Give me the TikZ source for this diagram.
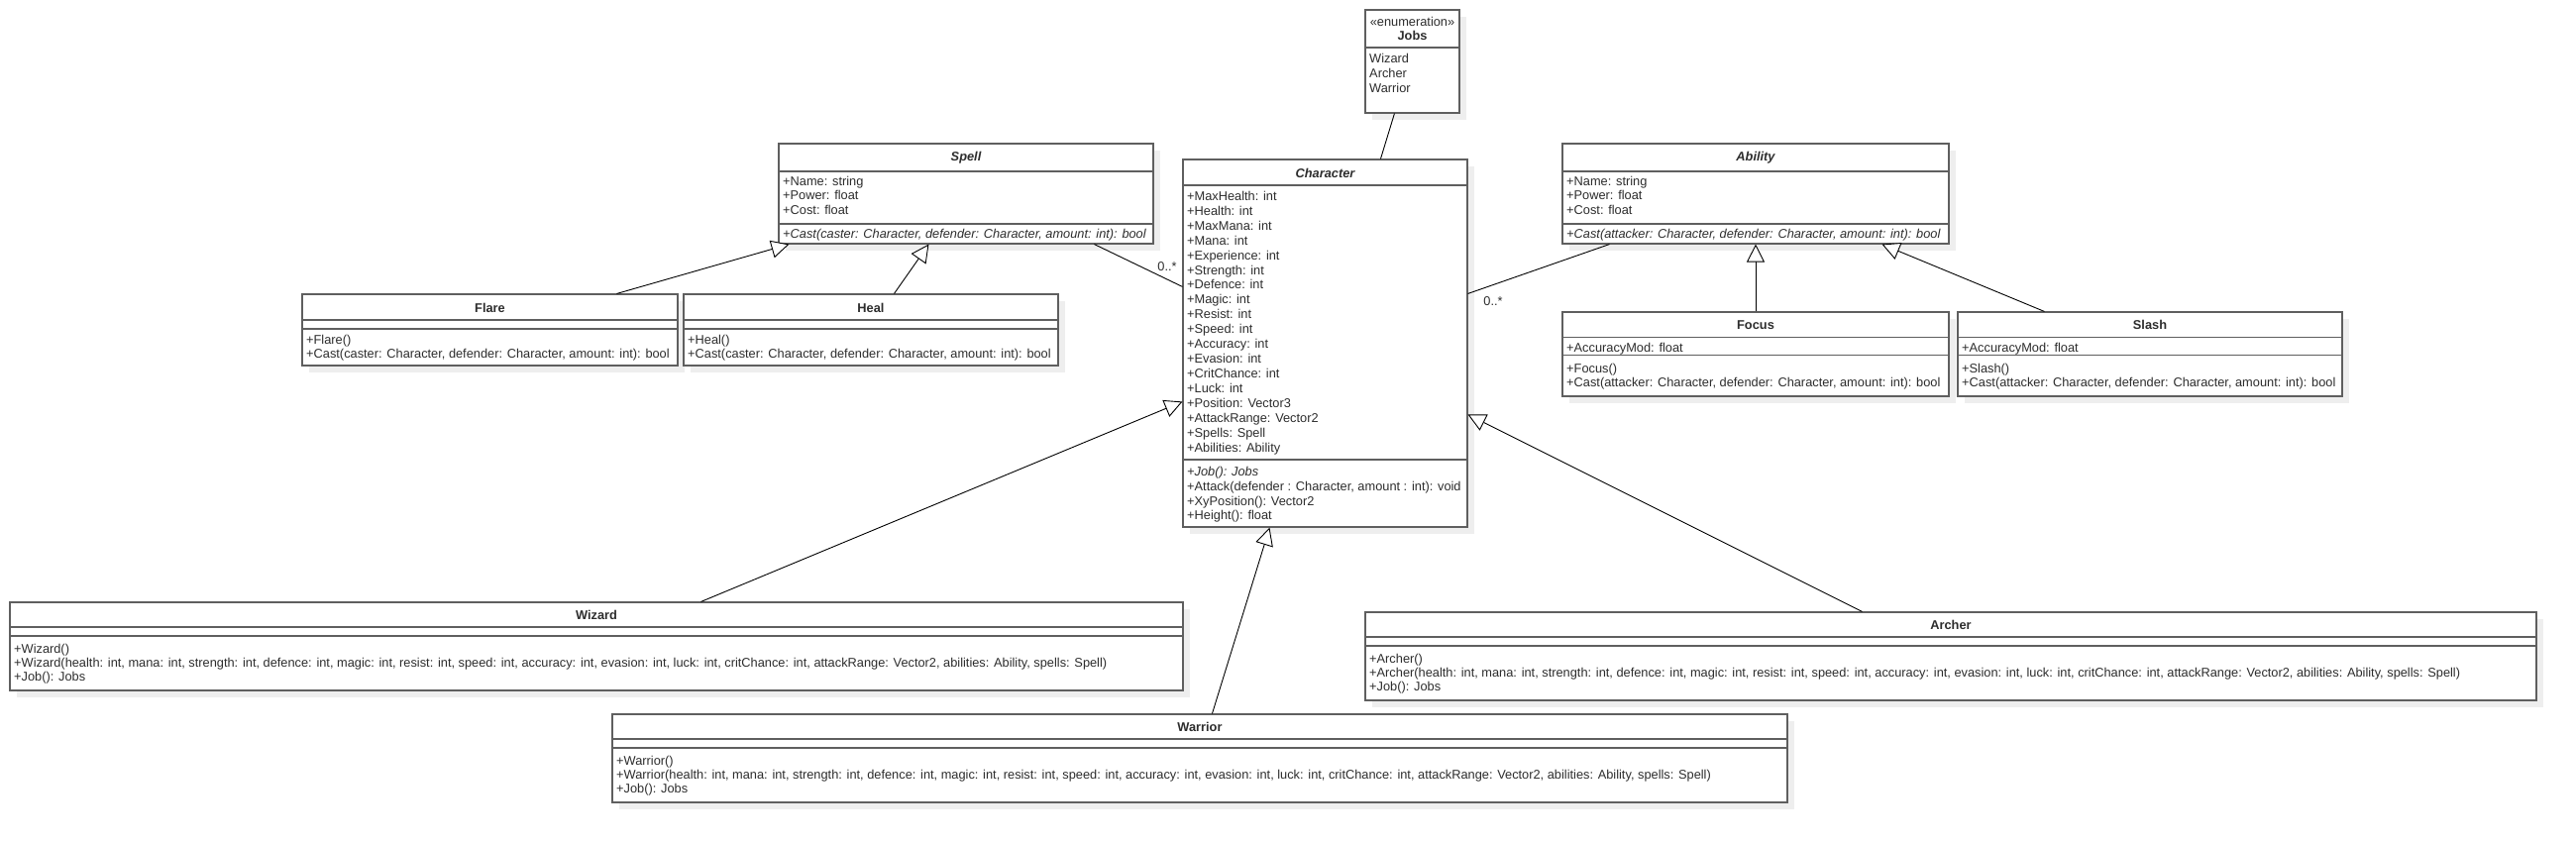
\documentclass[tikz,border=0pt]{standalone}
\usepackage{fontspec}
\setmainfont{Liberation Sans}
\usetikzlibrary{arrows.meta, fit}

\definecolor{boxline}{RGB}{95,95,95}
\definecolor{shadowgray}{RGB}{238,238,238}
\definecolor{txt}{RGB}{45,45,45}

% class box with its shadow: name, x1, y1, x2, y2
\newcommand{\classbox}[5]{%
  \fill[shadowgray] (#2+7,#3+7) rectangle (#4+7,#5+7);
  \node[classbox, fit={(#2,#3) (#4,#5)}] (#1) {};
}
% compartment line: x1, x2, y
\newcommand{\divline}[3]{\draw[divider] (#1,#3) -- (#2,#3);}
% member lines: prefix, x, first baseline, step, list
\newcommand{\members}[5]{%
  \foreach \m [count=\i from 0] in {#5}
    \node[member] (#1-\i) at (#2, #3+#4*\i) {\m};
}

\begin{document}
\begin{tikzpicture}[x=1pt, y=-1pt, >=Triangle,
    classbox/.style={draw=boxline, line width=1.1pt, fill=white, inner sep=0pt},
    divider/.style={draw=boxline, line width=1.1pt},
    member/.style={anchor=base west, inner sep=0pt, text=txt, font=\fontsize{12.8}{15}\selectfont},
    classname/.style={anchor=base, inner sep=0pt, text=txt, font=\fontsize{12.8}{15}\selectfont\bfseries},
    inherit/.style={draw, line width=0.9pt, -{Triangle[fill=white, length=18pt, width=18pt, line width=0.9pt]}},
    assoc/.style={draw, line width=0.9pt},
    mult/.style={inner sep=0pt, text=txt, font=\fontsize{12.8}{15}\selectfont}]

  \useasboundingbox (0,0) rectangle (2600,849);

  % Jobs
  \classbox{jobs}{1378}{10}{1473}{114}
  \node[classname, font=\fontsize{12.8}{15}\selectfont] (jobs-st) at (1425.5,26) {«enumeration»};
  \node[classname] (jobs-t) at (1425.5,40) {Jobs};
  \divline{1378}{1473}{48}
  \members{jobs-m}{1382}{63}{15}{Wizard, Archer, Warrior}

  % Spell
  \classbox{spell}{786}{145}{1164}{246}
  \node[classname] (spell-t) at (975,162) {\itshape Spell};
  \divline{786}{1164}{173}
  \members{spell-a}{790}{187}{14.6}{+Name: string, +Power: float, +Cost: float}
  \divline{786}{1164}{226}
  \node[member] (spell-o) at (790,240) {\itshape +Cast(caster: Character, defender: Character, amount: int): bool};

  % Ability
  \classbox{ability}{1577}{145}{1967}{246}
  \node[classname] (ability-t) at (1772,162) {\itshape Ability};
  \divline{1577}{1967}{173}
  \members{ability-a}{1581}{187}{14.6}{+Name: string, +Power: float, +Cost: float}
  \divline{1577}{1967}{226}
  \node[member] (ability-o) at (1581,240) {\itshape +Cast(attacker: Character, defender: Character, amount: int): bool};

  % Character
  \classbox{character}{1194}{161}{1481}{532}
  \node[classname] (character-t) at (1337.5,179) {\itshape Character};
  \divline{1194}{1481}{187}
  \members{character-a}{1198}{202.3}{14.94}{+MaxHealth: int, +Health: int, +MaxMana: int, +Mana: int,
    +Experience: int, +Strength: int, +Defence: int, +Magic: int, +Resist: int, +Speed: int,
    +Accuracy: int, +Evasion: int, +CritChance: int, +Luck: int, +Position: Vector3,
    +AttackRange: Vector2, +Spells: Spell, +Abilities: Ability}
  \divline{1194}{1481}{464}
  \members{character-o}{1198}{480.2}{14.9}{{\itshape +Job(): Jobs},
    {+Attack(defender : Character, amount : int): void}, +XyPosition(): Vector2, +Height(): float}

  % Flare and Heal
  \classbox{flare}{305}{297}{684}{369}
  \node[classname] (flare-t) at (494.5,315) {Flare};
  \divline{305}{684}{323}
  \divline{305}{684}{332}
  \members{flare-o}{309}{347.5}{14}{+Flare(), {+Cast(caster: Character, defender: Character, amount: int): bool}}

  \classbox{heal}{690}{297}{1068}{369}
  \node[classname] (heal-t) at (879,315) {Heal};
  \divline{690}{1068}{323}
  \divline{690}{1068}{332}
  \members{heal-o}{694}{347.5}{14}{+Heal(), {+Cast(caster: Character, defender: Character, amount: int): bool}}

  % Focus and Slash
  \classbox{focus}{1577}{315}{1967}{400}
  \node[classname] (focus-t) at (1772,332) {Focus};
  \divline{1577}{1967}{340.5}
  \node[member] (focus-a) at (1581,355.5) {+AccuracyMod: float};
  \divline{1577}{1967}{358.5}
  \members{focus-o}{1581}{376}{14.5}{+Focus(), {+Cast(attacker: Character, defender: Character, amount: int): bool}}

  \classbox{slash}{1976}{315}{2364}{400}
  \node[classname] (slash-t) at (2170,332) {Slash};
  \divline{1976}{2364}{340.5}
  \node[member] (slash-a) at (1980,355.5) {+AccuracyMod: float};
  \divline{1976}{2364}{358.5}
  \members{slash-o}{1980}{376}{14.5}{+Slash(), {+Cast(attacker: Character, defender: Character, amount: int): bool}}

  % Wizard, Archer, Warrior
  \classbox{wizard}{10}{608}{1194}{697}
  \node[classname] (wizard-t) at (602,625.5) {Wizard};
  \divline{10}{1194}{633}
  \divline{10}{1194}{642}
  \members{wizard-o}{14}{659.5}{14}{+Wizard(), {+Wizard(health: int, mana: int, strength: int, defence: int, magic: int, resist: int, speed: int, accuracy: int, evasion: int, luck: int, critChance: int, attackRange: Vector2, abilities: Ability, spells: Spell)}, +Job(): Jobs}

  \classbox{archer}{1378}{618}{2560}{707}
  \node[classname] (archer-t) at (1969,635.5) {Archer};
  \divline{1378}{2560}{643}
  \divline{1378}{2560}{652}
  \members{archer-o}{1382}{669.5}{14}{+Archer(), {+Archer(health: int, mana: int, strength: int, defence: int, magic: int, resist: int, speed: int, accuracy: int, evasion: int, luck: int, critChance: int, attackRange: Vector2, abilities: Ability, spells: Spell)}, +Job(): Jobs}

  \classbox{warrior}{618}{721}{1804}{810}
  \node[classname] (warrior-t) at (1211,738.5) {Warrior};
  \divline{618}{1804}{746}
  \divline{618}{1804}{755}
  \members{warrior-o}{622}{772.5}{14}{+Warrior(), {+Warrior(health: int, mana: int, strength: int, defence: int, magic: int, resist: int, speed: int, accuracy: int, evasion: int, luck: int, critChance: int, attackRange: Vector2, abilities: Ability, spells: Spell)}, +Job(): Jobs}

  % Associations
  \draw[assoc] ([xshift=30pt]jobs.south west) -- ([xshift=200pt]character.north west);
  \draw[assoc] ([xshift=319pt]spell.south west) -- ([yshift=-129pt]character.north west);
  \node[mult] (spell-mult) at (1178,269) {0..*};
  \draw[assoc] ([xshift=48pt]ability.south west) -- ([yshift=-136pt]character.north east);
  \node[mult] (ability-mult) at (1507,304) {0..*};

  % Generalisations
  \draw[inherit] ([xshift=318pt]flare.north west) -- ([xshift=11pt]spell.south west);
  \draw[inherit] ([xshift=213pt]heal.north west) -- ([xshift=152pt]spell.south west);
  \draw[inherit] (focus.north) -- (focus.north |- ability.south);
  \draw[inherit] ([xshift=88pt]slash.north west) -- ([xshift=323pt]ability.south west);
  \draw[inherit] ([xshift=698pt]wizard.north west) -- ([yshift=-245pt]character.north west);
  \draw[inherit] ([xshift=606pt]warrior.north west) -- ([xshift=88pt]character.south west);
  \draw[inherit] ([xshift=502pt]archer.north west) -- ([yshift=-258pt]character.north east);
\end{tikzpicture}
\end{document}
